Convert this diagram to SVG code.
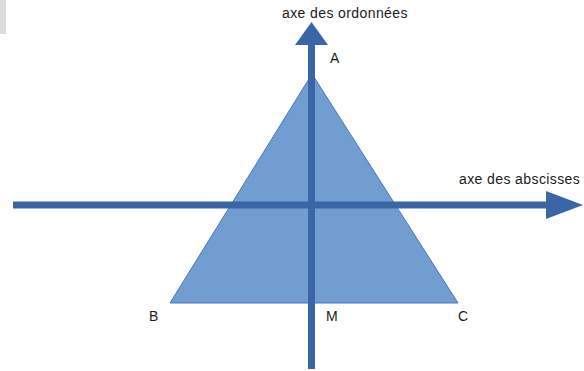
<svg xmlns="http://www.w3.org/2000/svg" width="584" height="371" viewBox="0 0 584 371">
<style>
.lbl{font-family:"Liberation Sans",Arial,sans-serif;font-size:14px;fill:#1a1a1a}
.ax{font-family:"Liberation Sans",Arial,sans-serif;font-size:14px;fill:#1a1a1a;letter-spacing:0.4px}
.axis{stroke:#3a66a8;stroke-width:7;fill:none}
.head{fill:#3a66a8}
</style>
<rect x="0" y="0" width="6" height="34" fill="#dcdcdc"/>
<g id="triangle">
<polygon points="312,74 170,303 458,303" fill="#719dd1" stroke="#4a78b8" stroke-width="1"/>
</g>
<g id="connectors">
<line class="axis" x1="13" y1="205" x2="548" y2="205"/>
<polygon class="head" points="546,191 583,205 546,219"/>
<line class="axis" x1="311.5" y1="369" x2="311.5" y2="43"/>
<polygon class="head" points="295,45 311.5,22 328,45"/>
</g>
<g id="labels">
<text class="ax" x="282" y="18">axe des ordonnées</text>
<text class="ax" x="459" y="184">axe des abscisses</text>
<text class="lbl" x="330" y="63">A</text>
<text class="lbl" x="149" y="321">B</text>
<text class="lbl" x="326" y="321">M</text>
<text class="lbl" x="458" y="321">C</text>
</g>
</svg>
